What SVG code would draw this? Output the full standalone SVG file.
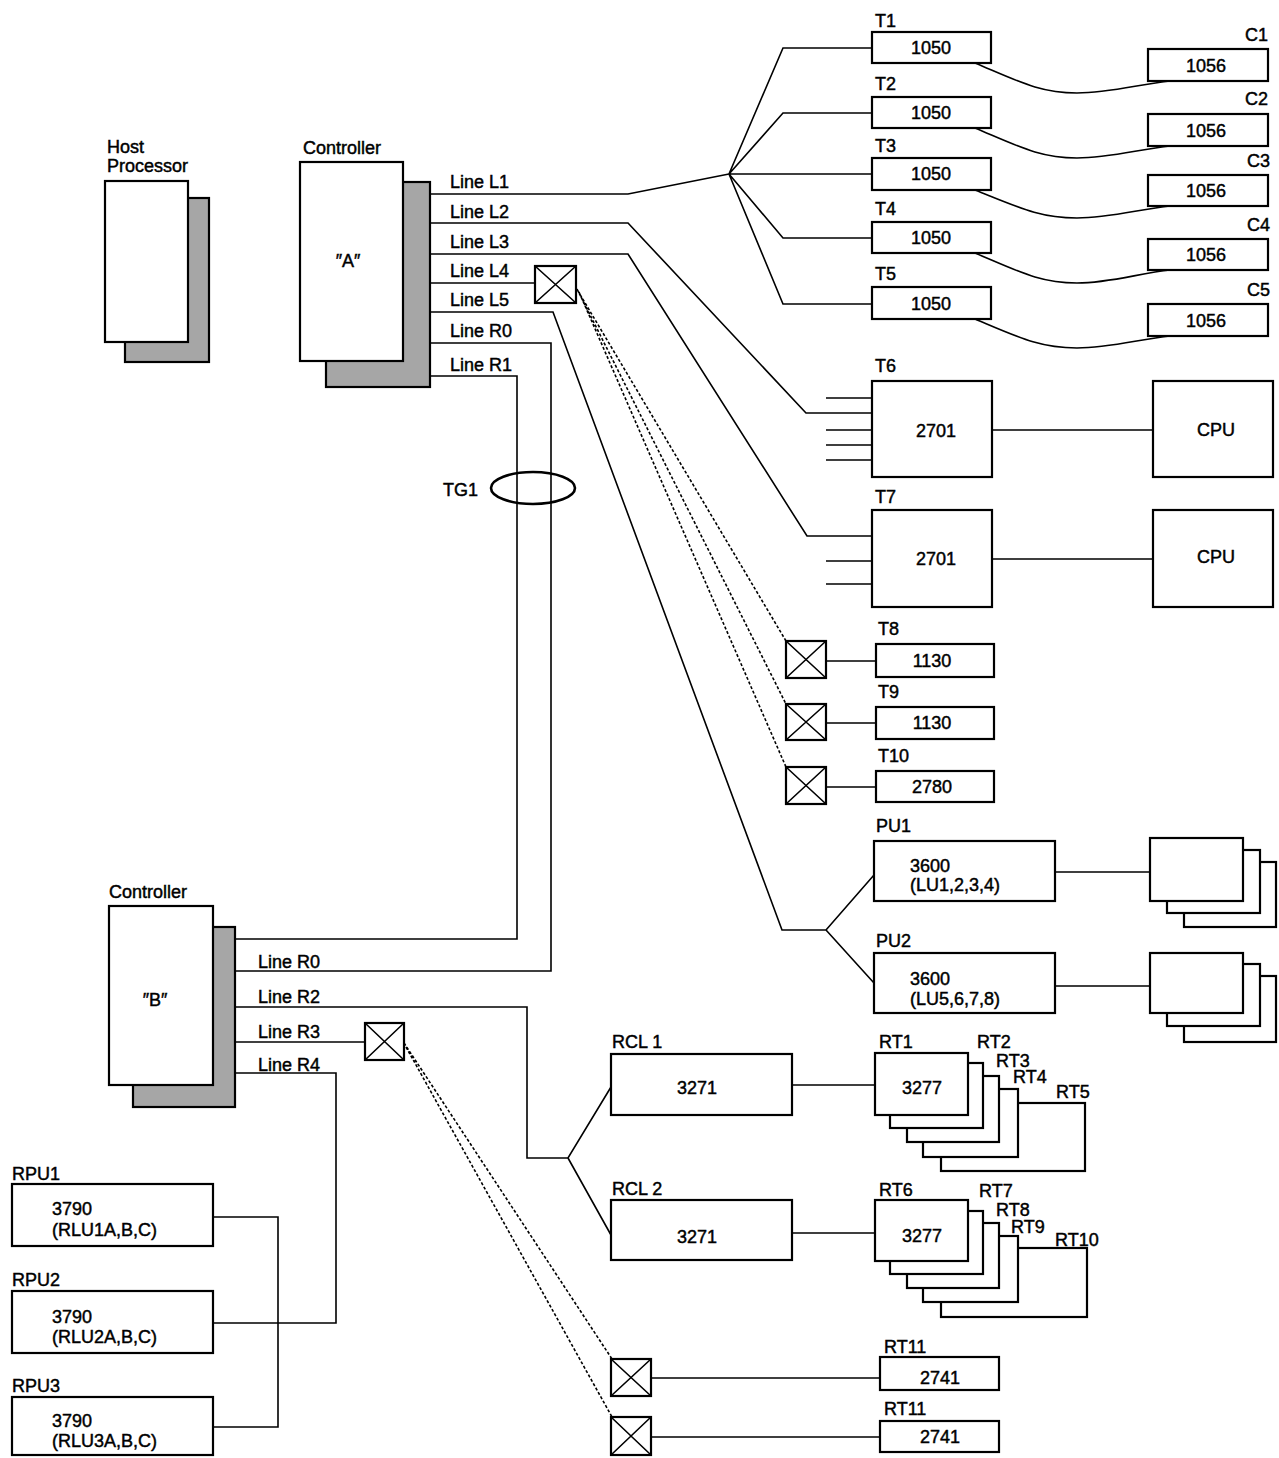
<svg xmlns="http://www.w3.org/2000/svg" width="1279" height="1458" viewBox="0 0 1279 1458">
<defs>
<style>
.box{fill:#fff;stroke:#000;stroke-width:2.2}
.shade{fill:#a6a6a6;stroke:#000;stroke-width:2.2}
.ln{fill:none;stroke:#000;stroke-width:1.6}
.dash{fill:none;stroke:#000;stroke-width:1.6;stroke-dasharray:3 2}
.x{fill:none;stroke:#000;stroke-width:1.6}
text{font-family:"Liberation Sans",Arial,sans-serif;font-size:18px;fill:#000;stroke:#000;stroke-width:0.45}
.c{text-anchor:middle}
.e{text-anchor:end}
</style>
</defs>
<rect width="1279" height="1458" fill="#fff"/>

<g id="connectors">
<path class="ln" d="M430,194 H628 L729,174"/>
<path class="ln" d="M729,174 L783,48 H872 M729,174 L783,113 H872 M729,174 H872 M729,174 L783,238 H872 M729,174 L783,304 H872"/>
<path class="ln" d="M975,63 C1020,82 1040,93 1077,93 C1110,93 1140,84 1170,81"/>
<path class="ln" d="M975,128 C1020,147 1040,158 1077,158 C1110,158 1140,149 1170,146"/>
<path class="ln" d="M975,190 C1020,208 1040,218 1077,218 C1110,218 1140,209 1170,206"/>
<path class="ln" d="M975,253 C1020,272 1040,283 1077,283 C1110,283 1140,273 1170,270"/>
<path class="ln" d="M975,319 C1020,338 1040,348 1077,348 C1110,348 1140,339 1170,336"/>
<path class="ln" d="M430,223 H628 L806,413 H872"/>
<path class="ln" d="M826,398 H872 M826,430 H872 M826,445 H872 M826,460 H872"/>
<path class="ln" d="M430,254 H628 L807,536 H872"/>
<path class="ln" d="M826,561 H872 M826,584 H872"/>
<path class="ln" d="M992,430 H1153 M992,559 H1153"/>
<path class="ln" d="M430,283 H535"/>
<path class="ln" d="M430,312 H553 L782,930 H826 L874,875 M826,930 L874,983"/>
<path class="ln" d="M430,343 H551 V971 H235"/>
<path class="ln" d="M430,376 H517 V939 H235"/>
<path class="dash" d="M575,286 L786,641 M577,289 L786,704 M579,292 L786,767"/>
<path class="ln" d="M826,661 H876 M826,723 H876 M826,787 H876"/>
<path class="ln" d="M1055,872 H1150 M1055,986 H1150"/>
<path class="ln" d="M235,1007 H527 V1158 H568 L611,1087 M568,1158 L611,1235"/>
<path class="ln" d="M235,1042 H365"/>
<path class="dash" d="M404,1043 L612,1359 M406,1047 L612,1417"/>
<path class="ln" d="M235,1073 H336 V1323 H213"/>
<path class="ln" d="M213,1217 H278 V1427 H213"/>
<path class="ln" d="M792,1085 H875 M792,1233 H875"/>
<path class="ln" d="M651,1378 H880 M651,1437 H880"/>
<ellipse cx="533" cy="488" rx="42" ry="16" fill="none" stroke="#000" stroke-width="2.6"/>
<text x="443" y="496">TG1</text>
<text x="450" y="188">Line L1</text>
<text x="450" y="218">Line L2</text>
<text x="450" y="248">Line L3</text>
<text x="450" y="277">Line L4</text>
<text x="450" y="306">Line L5</text>
<text x="450" y="337">Line R0</text>
<text x="450" y="371">Line R1</text>
<text x="258" y="968">Line R0</text>
<text x="258" y="1003">Line R2</text>
<text x="258" y="1038">Line R3</text>
<text x="258" y="1071">Line R4</text>
</g>

<g id="host">
<rect class="shade" x="125" y="198" width="84" height="164"/>
<rect class="box" x="105" y="181" width="83" height="161"/>
<text x="107" y="153">Host</text>
<text x="107" y="172">Processor</text>
</g>

<g id="controllerA">
<rect class="shade" x="326" y="182" width="104" height="205"/>
<rect class="box" x="300" y="162" width="103" height="199"/>
<text x="303" y="154">Controller</text>
<text class="c" x="348" y="267">″A″</text>
</g>

<g id="controllerB">
<rect class="shade" x="133" y="927" width="102" height="180"/>
<rect class="box" x="109" y="906" width="104" height="179"/>
<text x="109" y="898">Controller</text>
<text class="c" x="155" y="1006">″B″</text>
</g>

<g id="T1"><rect class="box" x="872" y="32" width="119" height="31"/><text class="c" x="931" y="54">1050</text><text x="875" y="27">T1</text></g>
<g id="T2"><rect class="box" x="872" y="97" width="119" height="31"/><text class="c" x="931" y="119">1050</text><text x="875" y="90">T2</text></g>
<g id="T3"><rect class="box" x="872" y="158" width="119" height="32"/><text class="c" x="931" y="180">1050</text><text x="875" y="152">T3</text></g>
<g id="T4"><rect class="box" x="872" y="222" width="119" height="31"/><text class="c" x="931" y="244">1050</text><text x="875" y="215">T4</text></g>
<g id="T5"><rect class="box" x="872" y="287" width="119" height="32"/><text class="c" x="931" y="310">1050</text><text x="875" y="280">T5</text></g>

<g id="C1"><rect class="box" x="1148" y="49" width="120" height="32"/><text class="c" x="1206" y="72">1056</text><text class="e" x="1268" y="41">C1</text></g>
<g id="C2"><rect class="box" x="1148" y="114" width="120" height="32"/><text class="c" x="1206" y="137">1056</text><text class="e" x="1268" y="105">C2</text></g>
<g id="C3"><rect class="box" x="1148" y="175" width="120" height="31"/><text class="c" x="1206" y="197">1056</text><text class="e" x="1270" y="167">C3</text></g>
<g id="C4"><rect class="box" x="1148" y="239" width="120" height="31"/><text class="c" x="1206" y="261">1056</text><text class="e" x="1270" y="231">C4</text></g>
<g id="C5"><rect class="box" x="1148" y="304" width="120" height="32"/><text class="c" x="1206" y="327">1056</text><text class="e" x="1270" y="296">C5</text></g>

<g id="T6"><rect class="box" x="872" y="381" width="120" height="96"/><text class="c" x="936" y="437">2701</text><text x="875" y="372">T6</text></g>
<g id="CPU1"><rect class="box" x="1153" y="381" width="120" height="96"/><text class="c" x="1216" y="436">CPU</text></g>
<g id="T7"><rect class="box" x="872" y="510" width="120" height="97"/><text class="c" x="936" y="565">2701</text><text x="875" y="503">T7</text></g>
<g id="CPU2"><rect class="box" x="1153" y="510" width="120" height="97"/><text class="c" x="1216" y="563">CPU</text></g>

<g id="modemL4"><rect class="box" x="535" y="266" width="41" height="37"/><path class="x" d="M535,266 L576,303 M576,266 L535,303"/></g>
<g id="modemT8"><rect class="box" x="786" y="641" width="40" height="37"/><path class="x" d="M786,641 L826,678 M826,641 L786,678"/></g>
<g id="modemT9"><rect class="box" x="786" y="704" width="40" height="36"/><path class="x" d="M786,704 L826,740 M826,704 L786,740"/></g>
<g id="modemT10"><rect class="box" x="786" y="767" width="40" height="37"/><path class="x" d="M786,767 L826,804 M826,767 L786,804"/></g>

<g id="T8"><rect class="box" x="876" y="644" width="118" height="33"/><text class="c" x="932" y="667">1130</text><text x="878" y="635">T8</text></g>
<g id="T9"><rect class="box" x="876" y="707" width="118" height="32"/><text class="c" x="932" y="729">1130</text><text x="878" y="698">T9</text></g>
<g id="T10"><rect class="box" x="876" y="771" width="118" height="31"/><text class="c" x="932" y="793">2780</text><text x="878" y="762">T10</text></g>

<g id="PU1"><rect class="box" x="874" y="841" width="181" height="60"/><text x="910" y="872">3600</text><text x="910" y="891">(LU1,2,3,4)</text><text x="876" y="832">PU1</text></g>
<g id="PU2"><rect class="box" x="874" y="953" width="181" height="60"/><text x="910" y="985">3600</text><text x="910" y="1005">(LU5,6,7,8)</text><text x="876" y="947">PU2</text></g>
<g id="PU1stack"><rect class="box" x="1184" y="862" width="92" height="65"/><rect class="box" x="1167" y="850" width="93" height="63"/><rect class="box" x="1150" y="838" width="93" height="63"/></g>
<g id="PU2stack"><rect class="box" x="1184" y="976" width="92" height="66"/><rect class="box" x="1167" y="964" width="93" height="62"/><rect class="box" x="1150" y="953" width="93" height="60"/></g>

<g id="modemR3"><rect class="box" x="365" y="1023" width="39" height="37"/><path class="x" d="M365,1023 L404,1060 M404,1023 L365,1060"/></g>

<g id="RCL1"><rect class="box" x="611" y="1054" width="181" height="61"/><text class="c" x="697" y="1094">3271</text><text x="612" y="1048">RCL 1</text></g>
<g id="RCL2"><rect class="box" x="611" y="1200" width="181" height="60"/><text class="c" x="697" y="1243">3271</text><text x="612" y="1195">RCL 2</text></g>

<g id="RT1stack">
<rect class="box" x="941" y="1103" width="144" height="68"/>
<rect class="box" x="923" y="1089" width="95" height="68"/>
<rect class="box" x="907" y="1076" width="92" height="66"/>
<rect class="box" x="890" y="1063" width="93" height="65"/>
<rect class="box" x="875" y="1053" width="93" height="62"/>
<text class="c" x="922" y="1094">3277</text>
<text x="879" y="1048">RT1</text><text x="977" y="1048">RT2</text><text x="996" y="1067">RT3</text><text x="1013" y="1083">RT4</text><text x="1056" y="1098">RT5</text>
</g>
<g id="RT6stack">
<rect class="box" x="941" y="1248" width="146" height="69"/>
<rect class="box" x="923" y="1236" width="95" height="66"/>
<rect class="box" x="907" y="1223" width="92" height="65"/>
<rect class="box" x="890" y="1211" width="93" height="63"/>
<rect class="box" x="875" y="1200" width="93" height="61"/>
<text class="c" x="922" y="1242">3277</text>
<text x="879" y="1196">RT6</text><text x="979" y="1197">RT7</text><text x="996" y="1216">RT8</text><text x="1011" y="1233">RT9</text><text x="1055" y="1246">RT10</text>
</g>

<g id="modemRT11a"><rect class="box" x="611" y="1359" width="40" height="37"/><path class="x" d="M611,1359 L651,1396 M651,1359 L611,1396"/></g>
<g id="modemRT11b"><rect class="box" x="611" y="1417" width="40" height="38"/><path class="x" d="M611,1417 L651,1455 M651,1417 L611,1455"/></g>
<g id="RT11a"><rect class="box" x="880" y="1357" width="119" height="33"/><text class="c" x="940" y="1384">2741</text><text x="884" y="1353">RT11</text></g>
<g id="RT11b"><rect class="box" x="880" y="1421" width="119" height="31"/><text class="c" x="940" y="1443">2741</text><text x="884" y="1415">RT11</text></g>

<g id="RPU1"><rect class="box" x="12" y="1184" width="201" height="62"/><text x="52" y="1215">3790</text><text x="52" y="1236">(RLU1A,B,C)</text><text x="12" y="1180">RPU1</text></g>
<g id="RPU2"><rect class="box" x="12" y="1291" width="201" height="62"/><text x="52" y="1323">3790</text><text x="52" y="1343">(RLU2A,B,C)</text><text x="12" y="1286">RPU2</text></g>
<g id="RPU3"><rect class="box" x="12" y="1397" width="201" height="58"/><text x="52" y="1427">3790</text><text x="52" y="1447">(RLU3A,B,C)</text><text x="12" y="1392">RPU3</text></g>
</svg>
